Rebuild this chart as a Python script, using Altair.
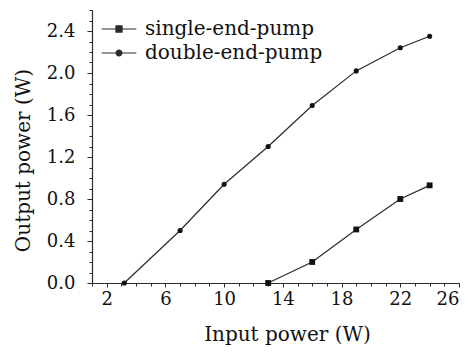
import altair as alt
import pandas as pd

series_names = ["single-end-pump", "double-end-pump"]
single_x = [13, 16, 19, 22, 24]
single_y = [0.0, 0.20, 0.51, 0.80, 0.93]
double_x = [3.2, 7, 10, 13, 16, 19, 22, 24]
double_y = [0.0, 0.50, 0.94, 1.30, 1.69, 2.02, 2.24, 2.35]

x_major = [2, 6, 10, 14, 18, 22, 26]
y_major = [0.0, 0.4, 0.8, 1.2, 1.6, 2.0, 2.4]
x_minor = [1, 2, 3, 4, 5, 6, 7, 8, 9, 10, 11, 12, 13, 14, 15, 16, 17, 18, 19,
           20, 21, 22, 23, 24, 25, 26]
y_minor = [0.0, 0.1, 0.2, 0.3, 0.4, 0.5, 0.6, 0.7, 0.8, 0.9, 1.0, 1.1, 1.2,
           1.3, 1.4, 1.5, 1.6, 1.7, 1.8, 1.9, 2.0, 2.1, 2.2, 2.3, 2.4, 2.5, 2.6]

df = pd.DataFrame({
    "x": single_x + double_x,
    "y": single_y + double_y,
    "series": [series_names[0]] * len(single_x) + [series_names[1]] * len(double_x),
})

FONT = "DejaVu Serif"
INK = "#2a2a2a"
TXT = "#111111"

xscale = alt.Scale(domain=[1, 26], nice=False, zero=False)
yscale = alt.Scale(domain=[0, 2.6], nice=False, zero=False)

minor_x_axis = alt.Axis(values=x_minor, labels=False, title=None, domain=False,
                        grid=False, ticks=True, tickSize=3, tickColor=INK,
                        orient="bottom")
minor_y_axis = alt.Axis(values=y_minor, labels=False, title=None, domain=False,
                        grid=False, ticks=True, tickSize=3, tickColor=INK,
                        orient="left")

major_x_axis = alt.Axis(values=x_major, title="Input power (W)", grid=False,
                        orient="bottom", tickSize=4, tickColor=INK,
                        domainColor=INK, domainWidth=1.2, labelFont=FONT,
                        labelFontSize=18, labelColor=TXT, labelPadding=3,
                        titleFont=FONT, titleFontSize=20,
                        titleFontWeight="normal", titleColor=TXT,
                        titlePadding=16, titleX=195, format="d")
major_y_axis = alt.Axis(values=y_major, title="Output power (W)", grid=False,
                        orient="left", tickSize=5, tickColor=INK,
                        domainColor=INK, domainWidth=1.2, labelFont=FONT,
                        labelFontSize=18, labelColor=TXT, labelPadding=12,
                        titleFont=FONT, titleFontSize=20,
                        titleFontWeight="normal", titleColor=TXT,
                        titlePadding=13, titleY=150, format=".1f")

# legend glyphs: a short line with a (solid-looking) marker in the middle
sq_path = ("M-2,0H2"
           "M-0.35,-0.35H0.35V0.35H-0.35Z"
           "M-0.25,-0.25H0.25V0.25H-0.25Z"
           "M-0.15,-0.15H0.15V0.15H-0.15Z"
           "M-0.05,-0.05H0.05V0.05H-0.05Z")
ci_path = ("M-2,0H2"
           "M0.33,0A0.33,0.33,0,1,1,-0.33,0A0.33,0.33,0,1,1,0.33,0Z"
           "M0.23,0A0.23,0.23,0,1,1,-0.23,0A0.23,0.23,0,1,1,0.23,0Z"
           "M0.13,0A0.13,0.13,0,1,1,-0.13,0A0.13,0.13,0,1,1,0.13,0Z"
           "M0.04,0A0.04,0.04,0,1,1,-0.04,0A0.04,0.04,0,1,1,0.04,0Z")

legend = alt.Legend(
    title=None, orient="none", legendX=17, legendY=9,
    labelFont=FONT, labelFontSize=20, labelColor=TXT, labelOffset=16,
    labelLimit=0, symbolSize=300, symbolStrokeWidth=1.2,
    symbolStrokeColor=INK, symbolOpacity=1, rowPadding=4, padding=0,
)

lines = alt.Chart(df).mark_line(color=INK, strokeWidth=1.2).encode(
    x=alt.X("x:Q", scale=xscale, axis=minor_x_axis),
    y=alt.Y("y:Q", scale=yscale, axis=minor_y_axis),
    detail="series:N",
)

points = alt.Chart(df).mark_point(filled=True, color="#111", opacity=1).encode(
    x=alt.X("x:Q", scale=xscale, axis=major_x_axis),
    y=alt.Y("y:Q", scale=yscale, axis=major_y_axis),
    shape=alt.Shape("series:N",
                    scale=alt.Scale(domain=series_names, range=["square", "circle"]),
                    legend=None),
    size=alt.Size("series:N",
                  scale=alt.Scale(domain=series_names, range=[34, 26]),
                  legend=None),
)

legend_layer = alt.Chart(df).mark_point(
    filled=False, color=INK, strokeWidth=1.2, opacity=0
).encode(
    x=alt.X("x:Q", scale=xscale, axis=None),
    y=alt.Y("y:Q", scale=yscale, axis=None),
    shape=alt.Shape("series:N",
                    scale=alt.Scale(domain=series_names, range=[sq_path, ci_path]),
                    legend=legend),
)

chart = alt.layer(lines, points, legend_layer).resolve_axis(
    x="independent", y="independent"
).resolve_scale(shape="independent", size="independent").properties(
    width=367, height=273,
    autosize=alt.AutoSizeParams(type="none"),
    padding={"left": 92, "top": 10, "right": 16, "bottom": 73},
    background="white",
).configure_view(stroke=None)

chart.save("out.html", embed_options={"renderer": "svg", "actions": False})
